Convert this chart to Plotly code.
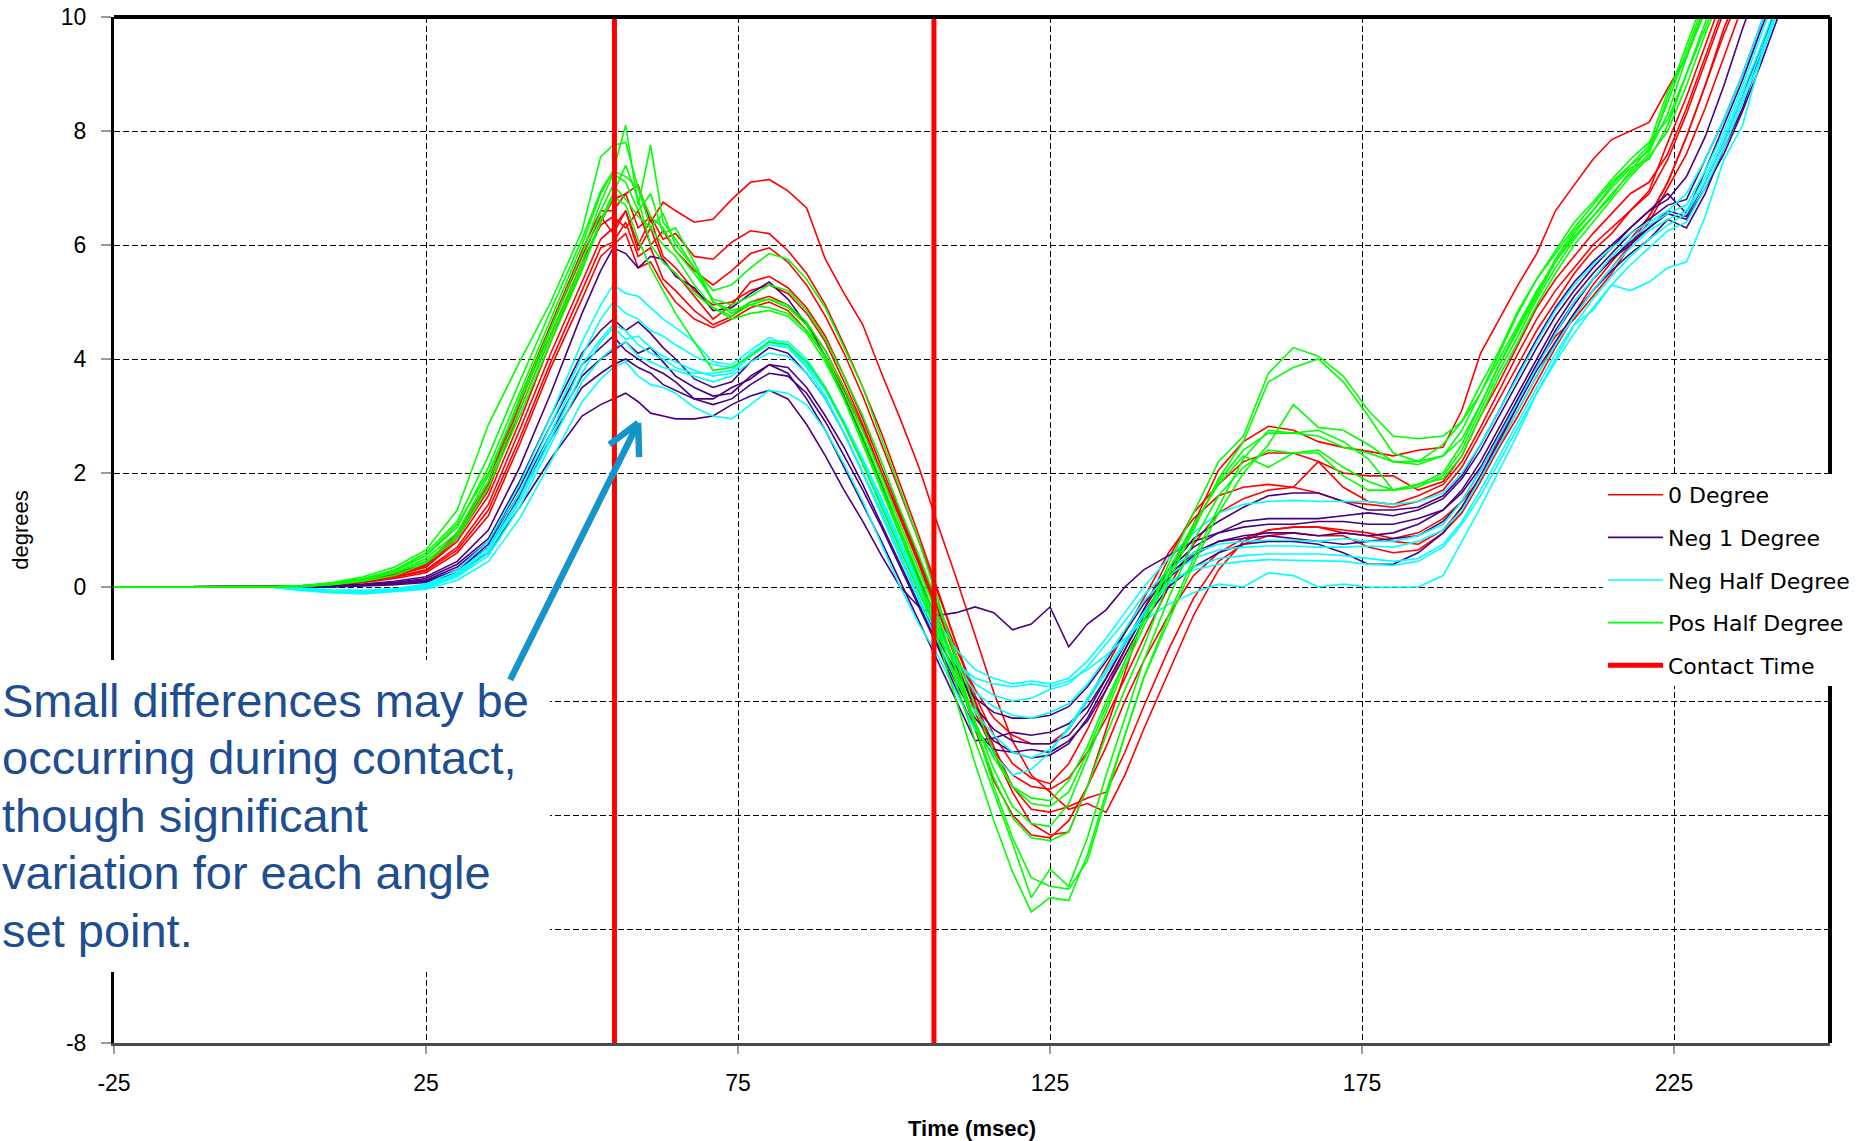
import plotly.graph_objects as go

# ---------------- data ----------------
TIME_MS = [-25, 0, 5, 10, 15, 20, 25, 30, 35, 40, 45, 50, 53,
           55, 57, 59, 61, 63, 65,
           68, 71, 74, 77, 80, 83, 86, 89, 92, 95, 98, 101, 104, 107, 110,
           113, 116, 119, 122, 125, 128, 131, 134, 137, 140,
           144, 148, 152, 156, 160, 164, 168, 172, 176, 180, 184, 188,
           191, 194, 197, 200, 203, 206, 209, 212, 215, 218, 221, 224, 227,
           230, 233, 236, 239, 242]

DEG_0 = [
    [0, 0, 0.01, 0.04, 0.1, 0.2, 0.35, 0.8, 1.6, 2.9, 4.3, 5.6, 6.4,
     6.8, 6.9, 7.05, 6.4, 6.75, 6.6,
     6.4, 6.45, 6.8, 7.1, 7.15, 6.95, 6.65, 5.75, 5.15, 4.6, 3.75, 2.95, 2.1, 1.1, 0.15, -0.85, -1.85, -2.7, -3.3, -3.6, -3.9, -3.8, -3.95, -3.3, -2.5,
     -1.5, -0.5, 0.3, 0.8, 1.0, 1.05, 1.05, 0.95, 0.9, 0.8, 0.75, 1.0,
     1.4, 1.95, 2.6, 3.2, 3.9, 4.4, 4.7, 5.1, 5.5, 6.0, 6.5, 7.1, 7.9, 8.8, 9.8, 10.6, 11.4, 12.0],
    [0, 0, 0.02, 0.06, 0.13, 0.25, 0.4, 0.95, 1.85, 3.3, 4.6, 5.9, 6.6,
     6.6, 6.9, 6.3, 6.5, 6.1, 6.2,
     5.8, 5.75, 6.05, 6.25, 6.2, 5.9, 5.5, 4.95, 4.25, 3.5, 2.7, 1.8, 0.9, -0.05, -1.0, -2.0, -2.9, -3.6, -4.15, -4.35, -4.3, -3.5, -2.5, -1.5, -0.5,
     0.2, 1.1, 2.05, 2.55, 2.82, 2.75, 2.55, 2.45, 2.38, 2.3, 2.4, 2.45,
     3.1, 4.1, 4.7, 5.3, 5.85, 6.6, 7.05, 7.5, 7.85, 8.0, 8.15, 8.75, 9.3, 10.2, 11.0, 11.8, 12.5, 13.0],
    [0, 0, 0.01, 0.05, 0.12, 0.22, 0.35, 0.85, 1.7, 3.1, 4.4, 5.7, 6.35,
     6.5, 6.3, 6.6, 6.0, 6.25, 5.9,
     5.55, 5.3, 5.55, 5.85, 5.95, 5.7, 5.3, 4.75, 4.1, 3.35, 2.5, 1.65, 0.8, -0.1, -1.0, -1.9, -2.6, -3.1, -3.35, -3.45, -3.1, -2.5, -1.8, -1.1, -0.4,
     0.5, 1.3, 1.8, 2.2, 2.35, 2.35, 2.2, 2.0, 1.95, 1.95, 1.7, 1.85,
     2.3, 3.0, 3.6, 4.25, 4.9, 5.4, 5.8, 6.2, 6.55, 6.9, 7.1, 7.6, 8.4, 9.3, 10.2, 11.0, 11.8, 12.5],
    [0, 0, 0.01, 0.04, 0.1, 0.18, 0.3, 0.7, 1.45, 2.75, 4.1, 5.35, 6.1,
     6.3, 6.6, 5.9, 6.3, 5.7, 5.5,
     5.1, 4.7, 4.95, 5.35, 5.45, 5.25, 4.9, 4.4, 3.7, 2.95, 2.1, 1.3, 0.5, -0.3, -1.1, -1.8, -2.3, -2.6, -2.75, -2.75, -2.5, -2.0, -1.4, -0.8, -0.2,
     0.6, 1.2, 1.6, 1.75, 1.8, 1.75, 2.2, 1.75, 1.5, 1.45, 1.6, 1.8,
     2.2, 2.8, 3.45, 4.1, 4.7, 5.2, 5.6, 6.0, 6.3, 6.6, 6.9, 7.5, 8.3, 9.2, 10.1, 10.9, 11.7, 12.4],
    [0, 0, 0.01, 0.05, 0.11, 0.22, 0.38, 0.9, 1.8, 3.2, 4.55, 5.8, 6.5,
     6.2, 6.6, 6.0, 6.45, 5.8, 5.6,
     5.2, 4.95, 5.0, 5.2, 5.3, 5.15, 4.8, 4.3, 3.6, 2.85, 2.0, 1.2, 0.4, -0.5, -1.5, -2.5, -3.4, -4.0, -4.35, -4.4, -4.1, -3.5, -2.8, -2.0, -1.3,
     -0.5, 0.2, 0.6, 0.85, 1.0, 1.05, 1.05, 1.0, 0.95, 0.85, 0.95, 1.2,
     1.5, 1.9, 2.5, 3.1, 3.7, 4.3, 4.8, 5.3, 5.7, 6.1, 6.5, 7.1, 7.9, 8.8, 9.7, 10.5, 11.3, 12.0],
    [0, 0, 0.01, 0.04, 0.09, 0.17, 0.28, 0.65, 1.35, 2.6, 3.95, 5.2, 5.95,
     6.05, 6.4, 5.8, 5.95, 5.4, 5.2,
     4.85, 4.6, 4.75, 5.0, 5.1, 4.95, 4.6, 4.15, 3.5, 2.8, 2.0, 1.2, 0.4, -0.4, -1.3, -2.2, -2.9, -3.3, -3.5, -3.55, -3.35, -2.9, -2.3, -1.6, -0.9,
     0.0, 0.75, 1.3, 1.55, 1.7, 1.75, 1.65, 1.5, 1.45, 1.4, 1.5, 1.7,
     2.1, 2.7, 3.3, 3.9, 4.5, 5.0, 5.5, 5.9, 6.2, 6.6, 6.95, 7.8, 8.6, 9.5, 10.4, 11.2, 12.0, 12.6],
    [0, 0, 0.01, 0.03, 0.08, 0.15, 0.25, 0.6, 1.25, 2.5, 3.85, 5.05, 5.8,
     6.0, 6.2, 5.6, 5.7, 5.3, 5.0,
     4.7, 4.55, 4.7, 4.9, 5.0, 4.85, 4.5, 4.05, 3.45, 2.75, 2.0, 1.25, 0.45, -0.35, -1.2, -2.0, -2.8, -3.5, -3.9, -3.95, -3.85, -3.7, -3.6, -2.9, -2.1,
     -1.1, -0.2, 0.45, 0.75, 0.9, 0.95, 0.9, 0.9, 0.7, 0.6, 0.65, 0.95,
     1.3, 1.85, 2.45, 3.0, 3.6, 4.2, 4.75, 5.2, 5.6, 6.0, 6.4, 7.0, 7.6, 8.4, 9.3, 10.2, 11.0, 11.8],
]

NEG_1_DEG = [
    [0, 0, 0.0, 0.02, 0.05, 0.1, 0.18, 0.45, 1.0, 2.1, 3.4, 4.8, 5.55,
     5.95, 5.85, 5.6, 5.8, 5.75, 5.45,
     5.25, 4.85, 4.9, 5.15, 5.35, 5.05, 4.6, 4.05, 3.35, 2.6, 1.8, 0.95, 0.15, -0.6, -1.4, -2.1, -2.5, -2.7, -2.75, -2.75, -2.6, -2.2, -1.6, -1.0, -0.4,
     0.3, 0.85, 1.15, 1.4, 1.6, 1.65, 1.65, 1.5, 1.35, 1.35, 1.4, 1.6,
     1.95, 2.5, 3.1, 3.75, 4.35, 4.9, 5.35, 5.7, 6.0, 6.3, 6.6, 6.9, 6.55, 7.3, 8.1, 8.9, 9.8, 10.6],
    [0, 0, 0.0, 0.01, 0.04, 0.08, 0.15, 0.4, 0.85, 1.85, 3.0, 4.1, 4.5,
     4.7, 4.5, 4.65, 4.45, 4.2, 4.0,
     3.65, 3.5, 3.6, 3.95, 4.2, 4.1, 3.75, 3.3, 2.7, 2.0, 1.3, 0.55, -0.2, -0.9, -1.5, -1.95, -2.2, -2.3, -2.3, -2.25, -2.1, -1.75, -1.3, -0.8, -0.3,
     0.3, 0.7, 0.95, 1.15, 1.2, 1.2, 1.2, 1.25, 1.3, 1.25, 1.35, 1.55,
     1.9, 2.4, 3.0, 3.6, 4.2, 4.75, 5.2, 5.6, 5.95, 6.3, 6.6, 6.8, 7.2, 7.9, 8.8, 9.8, 10.7, 11.5],
    [0, 0, 0.0, 0.01, 0.03, 0.07, 0.12, 0.35, 0.8, 1.75, 2.85, 3.9, 4.2,
     4.4, 4.15, 4.0, 3.85, 3.75, 3.6,
     3.3, 3.3, 3.5, 3.65, 3.9, 3.85, 3.5, 3.0, 2.45, 1.8, 1.1, 0.4, -0.3, -1.0, -1.7, -2.3, -2.7, -2.9, -3.0, -2.95, -2.75, -2.3, -1.7, -1.1, -0.5,
     0.2, 0.6, 0.8, 0.9, 0.95, 0.95, 0.9, 0.95, 0.9, 0.95, 1.1, 1.35,
     1.7, 2.2, 2.8, 3.4, 4.0, 4.6, 5.1, 5.5, 5.85, 6.2, 6.45, 6.7, 6.8, 7.5, 8.2, 9.0, 9.9, 10.7],
    [0, 0, 0.0, 0.01, 0.03, 0.06, 0.1, 0.3, 0.7, 1.6, 2.6, 3.5, 3.75,
     3.9, 4.0, 3.85, 3.75, 3.55, 3.45,
     3.3, 3.2, 3.3, 3.55, 3.75, 3.7, 3.4, 2.9, 2.3, 1.7, 1.05, 0.35, -0.35, -1.05, -1.8, -2.5, -2.85, -2.9, -2.85, -2.9, -2.7, -2.35, -1.8, -1.2, -0.6,
     0.0, 0.35, 0.6, 0.75, 0.8, 0.8, 0.75, 0.6, 0.4, 0.4, 0.6, 0.95,
     1.4, 1.95, 2.55, 3.2, 3.8, 4.3, 4.8, 5.2, 5.55, 5.85, 6.1, 6.45, 6.3, 6.9, 7.7, 8.4, 9.4, 10.4],
    [0, 0, 0.0, 0.0, 0.02, 0.04, 0.08, 0.25, 0.6, 1.4, 2.25, 3.0, 3.2,
     3.3, 3.4, 3.25, 3.05, 3.0, 2.95,
     2.95, 3.0, 3.2, 3.35, 3.45, 3.3, 2.85, 2.3, 1.7, 1.15, 0.55, 0.0, -0.35, -0.5, -0.45, -0.35, -0.45, -0.75, -0.65, -0.35, -1.05, -0.65, -0.4, 0.0, 0.3,
     0.55, 0.8, 0.95, 1.05, 1.1, 1.1, 1.15, 1.15, 1.1, 1.1, 1.2, 1.35,
     1.65, 2.1, 2.7, 3.3, 3.9, 4.45, 4.95, 5.4, 5.75, 6.0, 6.3, 6.6, 6.5, 7.1, 7.8, 8.6, 9.5, 10.3],
    [0, 0, 0.0, 0.01, 0.03, 0.05, 0.1, 0.3, 0.75, 1.65, 2.7, 3.7, 4.0,
     4.15, 4.3, 4.1, 4.2, 3.95, 3.7,
     3.5, 3.35, 3.4, 3.7, 3.9, 3.75, 3.3, 2.75, 2.1, 1.45, 0.8, 0.1, -0.6, -1.3, -2.0, -2.7, -2.65, -2.55, -2.6, -2.55, -2.4, -2.1, -1.6, -1.0, -0.45,
     0.15, 0.55, 0.8, 0.85, 0.9, 0.85, 0.8, 0.75, 0.8, 0.85, 0.9, 1.15,
     1.5, 2.05, 2.65, 3.3, 3.9, 4.5, 5.0, 5.4, 5.75, 6.05, 6.3, 6.55, 6.45, 7.0, 7.6, 8.35, 9.2, 10.1],
]

NEG_HALF_DEG = [
    [0, 0, -0.02, -0.05, -0.06, -0.03, 0.05, 0.3, 0.8, 1.8, 3.0, 4.3, 4.95,
     5.3, 5.15, 5.1, 4.9, 4.7, 4.55,
     4.3, 3.95, 3.9, 4.15, 4.38, 4.25, 3.9, 3.45, 2.9, 2.25, 1.55, 0.8, 0.05, -0.6, -1.1, -1.45, -1.6, -1.7, -1.65, -1.7, -1.6, -1.3, -0.9, -0.45, 0.0,
     0.5, 0.95, 1.3, 1.45, 1.5, 1.52, 1.5, 1.5, 1.5, 1.45, 1.5, 1.65,
     2.0, 2.5, 3.1, 3.7, 4.3, 4.85, 5.3, 5.65, 5.95, 6.2, 6.4, 6.6, 6.9, 7.5, 8.2, 9.0, 9.9, 10.7],
    [0, 0, -0.03, -0.08, -0.1, -0.05, 0.02, 0.25, 0.7, 1.65, 2.85, 4.05, 4.7,
     5.0, 4.8, 4.7, 4.5, 4.4, 4.25,
     4.05, 3.9, 3.85, 4.05, 4.32, 4.3, 4.0, 3.5, 2.9, 2.2, 1.45, 0.7, -0.05, -0.75, -1.3, -1.7, -1.9, -2.0, -1.95, -1.8, -1.7, -1.4, -1.0, -0.6, -0.15,
     0.3, 0.6, 0.75, 0.8, 0.82, 0.82, 0.8, 0.85, 0.8, 0.8, 0.9, 1.1,
     1.5, 2.05, 2.65, 3.25, 3.85, 4.45, 5.0, 5.4, 5.8, 6.1, 6.35, 6.55, 6.7, 7.3, 8.0, 8.8, 9.7, 10.6],
    [0, 0, -0.05, -0.1, -0.08, -0.04, 0.0, 0.2, 0.6, 1.5, 2.6, 3.75, 4.3,
     4.55, 4.35, 4.4, 4.2, 4.05, 3.95,
     3.8, 3.7, 3.75, 4.05, 4.25, 4.2, 3.9, 3.45, 2.85, 2.2, 1.5, 0.75, 0.0, -0.7, -1.35, -1.85, -2.1, -2.25, -2.3, -2.2, -2.05, -1.7, -1.25, -0.75, -0.25,
     0.2, 0.5, 0.65, 0.7, 0.72, 0.72, 0.7, 0.7, 0.72, 0.7, 0.8, 1.0,
     1.35, 1.9, 2.5, 3.1, 3.7, 4.25, 4.75, 5.2, 5.6, 5.95, 6.25, 6.45, 6.6, 7.2, 7.9, 8.7, 9.5, 10.4],
    [0, 0, -0.04, -0.08, -0.1, -0.06, -0.02, 0.18, 0.55, 1.4, 2.5, 3.6, 4.0,
     4.2, 4.3, 4.05, 3.95, 3.85, 3.8,
     3.7, 3.6, 3.7, 3.95, 4.1, 4.05, 3.75, 3.3, 2.7, 2.0, 1.25, 0.5, -0.25, -0.95, -1.65, -2.2, -2.6, -2.9, -3.0, -2.85, -2.5, -2.0, -1.5, -1.0, -0.5,
     0.05, 0.35, 0.5, 0.55, 0.58, 0.58, 0.58, 0.55, 0.5, 0.45, 0.5, 0.75,
     1.15, 1.7, 2.3, 2.9, 3.5, 4.1, 4.6, 5.05, 5.45, 5.8, 6.1, 6.35, 6.55, 7.1, 7.8, 8.6, 9.4, 10.3],
    [0, 0, -0.06, -0.1, -0.12, -0.08, -0.04, 0.12, 0.45, 1.2, 2.2, 3.25, 3.65,
     3.85, 3.95, 3.7, 3.55, 3.5, 3.4,
     3.15, 3.0, 2.95, 3.2, 3.45, 3.4, 3.2, 2.75, 2.15, 1.5, 0.75, 0.0, -0.65, -1.2, -1.85, -2.5, -2.95, -3.3, -3.2, -2.9, -2.45, -1.95, -1.45, -0.95, -0.45,
     0.1, 0.3, 0.4, 0.45, 0.48, 0.47, 0.45, 0.45, 0.4, 0.38, 0.45, 0.7,
     1.1, 1.6, 2.2, 2.8, 3.4, 3.95, 4.45, 4.9, 5.3, 5.65, 5.95, 6.25, 6.4, 7.0, 7.7, 8.5, 9.3, 10.2],
    [0, 0, -0.05, -0.09, -0.1, -0.05, 0.02, 0.22, 0.65, 1.55, 2.7, 3.9, 4.35,
     4.6, 4.5, 4.25, 4.1, 4.0, 3.85,
     3.75, 3.75, 3.8, 4.1, 4.3, 4.2, 3.85, 3.35, 2.7, 2.0, 1.3, 0.55, -0.2, -0.85, -1.35, -1.6, -1.7, -1.75, -1.7, -1.75, -1.65, -1.45, -1.2, -0.9, -0.6,
     -0.3, -0.1, 0.05, 0.0, 0.25, 0.2, 0.0, 0.05, 0.0, 0.0, 0.0, 0.2,
     0.8, 1.4, 2.05, 2.7, 3.4, 4.0, 4.6, 4.85, 5.3, 5.2, 5.35, 5.6, 5.7, 6.5, 7.5, 8.1, 9.3, 10.3],
]

POS_HALF_DEG = [
    [0, 0, 0.02, 0.08, 0.18, 0.35, 0.65, 1.35, 2.85, 3.95, 5.0, 6.25, 7.55,
     7.75, 7.8, 7.0, 6.5, 6.3, 5.9,
     5.5, 5.05, 4.95, 5.1, 5.3, 5.2, 4.85, 4.35, 3.7, 3.0, 2.2, 1.35, 0.55, -0.3, -1.2, -2.1, -2.9, -3.5, -3.8, -3.85, -3.6, -2.9, -2.1, -1.3, -0.6,
     0.4, 1.3, 2.2, 2.65, 3.75, 4.2, 4.05, 3.7, 3.1, 2.65, 2.6, 2.65,
     2.9, 3.55, 4.15, 4.85, 5.4, 5.85, 6.3, 6.7, 7.1, 7.4, 7.65, 8.3, 9.3, 10.2, 11.0, 11.8, 12.5, 13.0],
    [0, 0, 0.02, 0.06, 0.14, 0.28, 0.55, 1.05, 2.1, 3.4, 4.7, 6.0, 6.9,
     7.3, 8.1, 6.7, 7.75, 6.4, 6.1,
     5.6, 5.0, 4.8, 5.0, 5.05, 4.9, 4.6, 4.0, 3.3, 2.5, 1.7, 0.9, 0.1, -0.9, -2.0, -3.1, -4.1, -5.0, -5.7, -5.45, -5.5, -4.7, -3.6, -2.6, -1.6,
     -0.6, 0.4, 1.3, 2.0, 2.5, 3.2, 2.8, 2.75, 2.5, 2.2, 2.2, 2.5,
     2.9, 3.4, 4.0, 4.6, 5.2, 5.7, 6.2, 6.6, 7.0, 7.35, 7.5, 8.1, 9.0, 9.9, 10.8, 11.6, 12.3, 13.0],
    [0, 0, 0.01, 0.05, 0.12, 0.25, 0.5, 0.95, 1.95, 3.3, 4.55, 5.85, 6.75,
     7.25, 7.1, 6.6, 6.9, 6.2, 6.3,
     5.7, 5.0, 4.85, 4.95, 4.9, 4.8, 4.5, 4.05, 3.4, 2.65, 1.85, 1.0, 0.2, -0.6, -1.5, -2.45, -3.35, -4.05, -4.4, -4.45, -4.3, -3.5, -2.6, -1.8, -1.05,
     0.1, 1.0, 1.9, 2.55, 3.6, 3.85, 4.0, 3.6, 3.0, 2.35, 2.2, 2.3,
     2.6, 3.2, 3.9, 4.5, 5.1, 5.7, 6.15, 6.5, 6.9, 7.25, 7.6, 8.6, 9.5, 10.4, 11.2, 12.0, 12.6, 13.2],
    [0, 0, 0.02, 0.07, 0.15, 0.3, 0.55, 1.1, 2.0, 3.25, 4.45, 5.7, 6.6,
     7.05, 6.8, 6.5, 6.3, 6.55, 6.0,
     5.6, 5.2, 5.3, 5.6, 5.85, 5.75, 5.4, 4.9, 4.2, 3.5, 2.6, 1.7, 0.8, -0.2, -1.3, -2.4, -3.5, -4.4, -5.1, -5.25, -5.3, -4.8, -3.7, -2.6, -1.6,
     -0.5, 0.5, 1.4, 2.25, 2.75, 2.7, 2.75, 2.55, 2.25, 1.7, 1.75, 1.95,
     2.4, 3.1, 3.8, 4.4, 5.05, 5.6, 6.1, 6.5, 6.85, 7.3, 7.7, 8.5, 9.4, 10.3, 11.1, 11.9, 12.5, 13.0],
    [0, 0, 0.01, 0.04, 0.1, 0.2, 0.42, 0.85, 1.75, 3.0, 4.3, 5.55, 6.4,
     6.85, 6.7, 6.1, 5.6, 5.2, 4.8,
     4.3, 3.8, 3.85, 4.05, 4.3, 4.25, 3.95, 3.5, 2.85, 2.15, 1.4, 0.65, -0.1, -0.8, -1.6, -2.4, -3.0, -3.5, -3.7, -3.75, -3.4, -2.8, -2.0, -1.3, -0.6,
     0.3, 1.1, 1.8, 2.3, 2.1, 2.35, 2.35, 1.95, 1.7, 1.7, 1.8, 1.9,
     2.3, 3.0, 3.7, 4.3, 4.95, 5.5, 6.0, 6.4, 6.8, 7.2, 7.55, 8.0, 8.8, 9.7, 10.5, 11.3, 12.0, 12.6],
    [0, 0, 0.01, 0.05, 0.12, 0.25, 0.45, 0.9, 1.85, 3.1, 4.4, 5.6, 6.45,
     6.9, 7.4, 6.8, 6.0, 5.7, 5.5,
     5.15, 4.9, 4.75, 4.95, 5.05, 4.95, 4.65, 4.15, 3.5, 2.75, 1.95, 1.1, 0.3, -0.5, -1.45, -2.35, -3.2, -3.85, -4.15, -4.2, -3.8, -3.0, -2.2, -1.4, -0.7,
     0.2, 1.05, 1.85, 2.4, 2.7, 2.7, 2.65, 2.45, 2.35, 2.2, 2.15, 2.3,
     2.75, 3.4, 4.1, 4.8, 5.4, 5.9, 6.4, 6.75, 7.15, 7.5, 7.8, 8.2, 9.0, 9.8, 10.6, 11.4, 12.0, 12.6],
    [0, 0, 0.02, 0.06, 0.14, 0.3, 0.6, 1.15, 2.3, 3.6, 4.85, 6.1, 6.95,
     7.3, 7.2, 7.0, 6.3, 6.0, 5.8,
     5.3, 4.9, 4.7, 4.8, 4.85, 4.75, 4.45, 3.95, 3.3, 2.55, 1.75, 0.95, 0.1, -0.7, -1.7, -2.7, -3.6, -4.5, -5.45, -4.95, -5.25, -4.4, -3.3, -2.3, -1.3,
     -0.2, 0.8, 1.6, 2.1, 2.4, 2.35, 2.4, 2.1, 1.85, 1.7, 1.8, 2.0,
     2.5, 3.2, 3.9, 4.55, 5.15, 5.75, 6.25, 6.6, 7.05, 7.4, 7.75, 8.7, 9.3, 10.1, 10.9, 11.7, 12.4, 13.0],
]

CONTACT_TIMES_MS = [55.2, 106.4]
SERIES_NAMES = ["0 Degree", "Neg 1 Degree", "Neg Half Degree", "Pos Half Degree", "Contact Time"]
X_RANGE = [-25, 250]
Y_RANGE = [-8, 10]
X_TICKS = [-25, 25, 75, 125, 175, 225]
X_TICK_LABELS = ["-25", "25", "75", "125", "175", "225"]
Y_TICKS = [-8, -6, -4, -2, 0, 2, 4, 6, 8, 10]
# the -6/-4/-2 labels sit under the note panel in the reference, so they are blank
Y_TICK_LABELS = ["-8", "", "", "", "0", "2", "4", "6", "8", "10"]
NOTE_LINES = ["Small differences may be", "occurring during contact,",
              "though significant", "variation for each angle", "set point."]

for grp in (DEG_0, NEG_1_DEG, NEG_HALF_DEG, POS_HALF_DEG):
    for run in grp:
        assert len(run) == len(TIME_MS), len(run)

# ---------------- figure ----------------
COLORS = ["#FF0000", "#4B0082", "#00FFFF", "#00FF00"]
fig = go.Figure()
for name, runs, color in zip(SERIES_NAMES[:4], (DEG_0, NEG_1_DEG, NEG_HALF_DEG, POS_HALF_DEG), COLORS):
    for i, run in enumerate(runs):
        fig.add_trace(go.Scatter(x=TIME_MS, y=run, mode="lines", name=name,
                                 legendgroup=name, showlegend=(i == 0),
                                 line=dict(color=color, width=1.6), hoverinfo="skip"))
for i, t in enumerate(CONTACT_TIMES_MS):
    fig.add_trace(go.Scatter(x=[t, t], y=Y_RANGE, mode="lines", name=SERIES_NAMES[4],
                             legendgroup=SERIES_NAMES[4], showlegend=(i == 0),
                             line=dict(color="#FF0000", width=5), hoverinfo="skip"))

W, H = 1862, 1141
ML, MR, MT, MB = 114, 32, 17, 98
PW = W - ML - MR
PH = H - MT - MB


def px_to_paper_x(px):
    return (px - ML) / PW


def px_to_paper_y(py):
    return (H - MB - py) / PH


grid = dict(showgrid=True, gridcolor="black", gridwidth=1.4, griddash="6px,3px", zeroline=False)
fig.update_layout(
    width=W, height=H,
    margin=dict(l=ML, r=MR, t=MT, b=MB, autoexpand=False),
    paper_bgcolor="white", plot_bgcolor="white",
    font=dict(family="Liberation Sans, Arial, sans-serif", size=22, color="black"),
    hovermode=False,
    showlegend=True,
    legend=dict(x=px_to_paper_x(1603), y=px_to_paper_y(474), xanchor="left", yanchor="top",
                bgcolor="white", borderwidth=0, traceorder="grouped", tracegroupgap=11,
                itemwidth=55,
                font=dict(family="DejaVu Sans, Verdana, sans-serif", size=22, color="black")),
    xaxis=dict(range=X_RANGE, tickmode="array", tickvals=X_TICKS, ticktext=X_TICK_LABELS, **grid,
               showline=True, linecolor="#4a4a4a", linewidth=3,
               ticks="outside", ticklen=8, tickwidth=2, tickcolor="#9a9a9a",
               tickfont=dict(size=23), ticklabelstandoff=9,
               title=dict(text="<b>Time (msec)</b>", font=dict(size=22), standoff=28)),
    yaxis=dict(range=Y_RANGE, tickmode="array", tickvals=Y_TICKS, ticktext=Y_TICK_LABELS, **grid,
               showline=True, linecolor="black", linewidth=3,
               ticks="outside", ticklen=10, tickwidth=2, tickcolor="#9a9a9a",
               tickfont=dict(size=23), ticklabelstandoff=10,
               title=dict(text="degrees", font=dict(size=22), standoff=27)),
)

shapes = [
    # top and right frame of the plot area
    dict(type="line", xref="paper", yref="paper", x0=0, x1=1, y0=1, y1=1,
         line=dict(color="black", width=4), layer="above"),
    dict(type="line", xref="paper", yref="paper", x0=1, x1=1, y0=0, y1=1,
         line=dict(color="black", width=4), layer="above"),
    # white text panel covering the lower-left part of the chart
    dict(type="rect", xref="paper", yref="paper",
         x0=px_to_paper_x(-20), x1=px_to_paper_x(550), y0=px_to_paper_y(972), y1=px_to_paper_y(660),
         fillcolor="white", line=dict(width=0), layer="above"),
    # callout arrow
    dict(type="line", xref="x", yref="y", x0=38.5, y0=-1.63, x1=58.9, y1=2.85,
         line=dict(color="#1594C9", width=6.5), layer="above"),
    dict(type="line", xref="x", yref="y", x0=54.4, y0=2.5, x1=59.0, y1=2.88,
         line=dict(color="#1594C9", width=6.5), layer="above"),
    dict(type="line", xref="x", yref="y", x0=59.0, y0=2.88, x1=59.15, y1=2.28,
         line=dict(color="#1594C9", width=6.5), layer="above"),
]
fig.update_layout(shapes=shapes)

annotations = []
for i, line in enumerate(NOTE_LINES):
    annotations.append(dict(
        text=line, xref="paper", yref="paper",
        x=px_to_paper_x(0), y=px_to_paper_y(700 + i * 57.5),
        xanchor="left", yanchor="middle", showarrow=False,
        font=dict(family="Liberation Sans, Arial, sans-serif", size=47, color="#1F4E8F")))
fig.update_layout(annotations=annotations)

fig.write_html("out.html")
